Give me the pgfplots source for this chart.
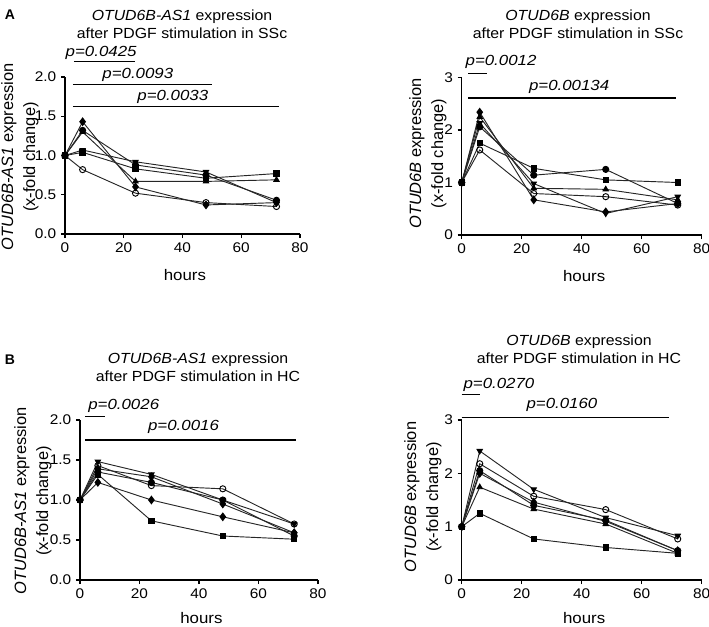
\documentclass[border=0pt]{standalone}
\usepackage{fontspec}
\setmainfont{Liberation Sans}
\newfontfamily\wideT[FakeStretch=1.08]{Liberation Sans}
\newfontfamily\wideP[FakeStretch=1.15]{Liberation Sans}
\newfontfamily\wideK[FakeStretch=1.1]{Liberation Sans}
\usepackage{pgfplots}
\pgfplotsset{compat=1.18}
\pgfplotsset{
  gp/.style={
    scale only axis,
    anchor=origin,
    axis lines=left,
    axis line style={-, line width=0.8pt},
    tick align=outside,
    major tick length=3pt,
    tick style={line width=0.8pt, black},
    xmin=0, xmax=80, ymin=0,
    xtick={0,20,40,60,80},
    clip=false,
    tick label style={font=\wideK\fontsize{10.5}{11}\selectfont},
    /pgf/number format/assume math mode=true,
    xlabel={hours},
    xlabel style={font=\wideK\fontsize{11.5}{12}\selectfont, at={(axis description cs:0.51,0)}, anchor=center, yshift=-30.75pt},
    every axis plot/.append style={line width=0.7pt, black!85, mark size=2.3pt},
  },
  gpb/.style={gp, xlabel style={yshift=2.25pt}},
}
\tikzset{
  ptext/.style={font=\wideP\fontsize{11}{12}\selectfont\itshape},
  pbar/.style={line width=0.8pt},
  mfc/.style={mark=*, mark options={fill=black, draw=black}},
  mfs/.style={mark=square*, mark size=2pt, mark options={fill=black, draw=black}},
  mfd/.style={mark=diamond*, mark size=2.8pt, mark options={fill=black, draw=black}},
  mft/.style={mark=triangle*, mark options={fill=black, draw=black}},
  mfi/.style={mark=triangle*, mark options={fill=black, draw=black, rotate=180}},
  moc/.style={mark=o, mark options={draw=black, fill=white}},
}
\begin{document}
\begin{tikzpicture}
\useasboundingbox (0,0) rectangle (531.75pt,469.5pt);

% ---------------- A left
\begin{axis}[gp, at={(48.75pt,294pt)}, width=176.25pt, height=117.75pt,
  ymax=2, ytick={0,0.5,1,1.5,2},
  yticklabel style={/pgf/number format/.cd, fixed, fixed zerofill, precision=1}]
\addplot[mfd] coordinates {(0,1) (6,1.43) (24,0.60) (48,0.37) (72,0.40)};
\addplot[mfc] coordinates {(0,1) (6,1.32) (24,0.88) (48,0.75) (72,0.43)};
\addplot[mfi] coordinates {(0,1) (6,1.07) (24,0.92) (48,0.79) (72,0.40)};
\addplot[mfs] coordinates {(0,1) (6,1.04) (24,0.83) (48,0.71) (72,0.77)};
\addplot[mft] coordinates {(0,1) (6,1.30) (24,0.67) (48,0.67) (72,0.69)};
\addplot[moc] coordinates {(0,1) (6,0.82) (24,0.52) (48,0.40) (72,0.35)};
\draw[pbar] (axis cs:3,2.2) -- (axis cs:24,2.2);
\node[ptext] at (axis cs:12.3,2.31) {p=0.0425};
\draw[pbar] (axis cs:2.7,1.91) -- (axis cs:50,1.91);
\node[ptext] at (axis cs:24.8,2.03) {p=0.0093};
\draw[pbar] (axis cs:2.7,1.63) -- (axis cs:73,1.63);
\node[ptext] at (axis cs:36.7,1.75) {p=0.0033};
\end{axis}

% ---------------- A right
\begin{axis}[gp, at={(346.3pt,293.25pt)}, width=180pt, height=118.1pt,
  ymax=3, ytick={0,1,2,3}]
\addplot[mfc] coordinates {(0,1) (6,2.06) (24,1.14) (48,1.25) (72,0.60)};
\addplot[mfs] coordinates {(0,1) (6,1.75) (24,1.27) (48,1.05) (72,1.00)};
\addplot[mfd] coordinates {(0,1) (6,2.34) (24,0.67) (48,0.44) (72,0.60)};
\addplot[mft] coordinates {(0,1) (6,2.25) (24,0.89) (48,0.87) (72,0.67)};
\addplot[moc] coordinates {(0,1) (6,1.62) (24,0.79) (48,0.73) (72,0.57)};
\addplot[mfi] coordinates {(0,1) (6,2.13) (24,0.98) (48,0.41) (72,0.73)};
\draw[pbar] (axis cs:2.1,3.07) -- (axis cs:8.4,3.07);
\node[ptext] at (axis cs:13.1,3.29) {p=0.0012};
\draw[pbar] (axis cs:2.1,2.61) -- (axis cs:71.4,2.61);
\node[ptext] at (axis cs:35.8,2.82) {p=0.00134};
\end{axis}

% ---------------- B left
\begin{axis}[gpb, at={(60pt,34.5pt)}, width=178.5pt, height=120pt,
  ymax=2, ytick={0,0.5,1,1.5,2},
  yticklabel style={/pgf/number format/.cd, fixed, fixed zerofill, precision=1}]
\addplot[mfi] coordinates {(0,1) (6,1.48) (24,1.32) (48,1.00) (72,0.70)};
\addplot[moc] coordinates {(0,1) (6,1.43) (24,1.18) (48,1.14) (72,0.70)};
\addplot[mfd] coordinates {(0,1) (6,1.39) (24,1.29) (48,0.95) (72,0.59)};
\addplot[mfc] coordinates {(0,1) (6,1.35) (24,1.22) (48,1.00) (72,0.55)};
\addplot[mfd] coordinates {(0,1) (6,1.22) (24,1.00) (48,0.79) (72,0.59)};
\addplot[mfs] coordinates {(0,1) (6,1.32) (24,0.74) (48,0.55) (72,0.51)};
\draw[pbar] (axis cs:1.7,2.04) -- (axis cs:8.5,2.04);
\node[ptext] at (axis cs:14.7,2.18) {p=0.0026};
\draw[pbar] (axis cs:1.7,1.75) -- (axis cs:72.6,1.75);
\node[ptext] at (axis cs:34.8,1.91) {p=0.0016};
\end{axis}

% ---------------- B right
\begin{axis}[gpb, at={(346.3pt,34.5pt)}, width=180pt, height=120pt,
  ymax=3, ytick={0,1,2,3}]
\addplot[mfi] coordinates {(0,1) (6,2.42) (24,1.70) (48,1.17) (72,0.83)};
\addplot[moc] coordinates {(0,1) (6,2.18) (24,1.57) (48,1.32) (72,0.77)};
\addplot[mfd] coordinates {(0,1) (6,2.00) (24,1.46) (48,1.10) (72,0.55)};
\addplot[mft] coordinates {(0,1) (6,1.74) (24,1.33) (48,1.05) (72,0.50)};
\addplot[mfc] coordinates {(0,1) (6,2.05) (24,1.40) (48,1.12) (72,0.55)};
\addplot[mfs] coordinates {(0,1) (6,1.25) (24,0.77) (48,0.61) (72,0.50)};
\draw[pbar] (axis cs:0,3.47) -- (axis cs:6,3.47);
\node[ptext] at (axis cs:12.4,3.66) {p=0.0270};
\draw[pbar] (axis cs:0,3.05) -- (axis cs:69,3.05);
\node[ptext] at (axis cs:33.4,3.28) {p=0.0160};
\end{axis}

% ---------------- titles and labels (pixel positions * 0.75)
\tikzset{ttl/.style={font=\wideT\fontsize{11}{13.5}\selectfont, align=center},
         ylab/.style={font=\fontsize{12.3}{16.5}\selectfont, align=center, rotate=90}}
\node[font=\bfseries\fontsize{10.5}{12}\selectfont] at (7.5pt,458.25pt) {A};
\node[font=\bfseries\fontsize{10.5}{12}\selectfont] at (7.5pt,199.5pt) {B};

\node[ttl] at (136.5pt,451.5pt) {\textit{OTUD6B-AS1} expression\\after PDGF stimulation in SSc};
\node[ttl] at (433.5pt,451.5pt) {\textit{OTUD6B} expression\\after PDGF stimulation in SSc};
\node[ttl] at (148.5pt,193.9pt) {\textit{OTUD6B-AS1} expression\\after PDGF stimulation in HC};
\node[ttl] at (434.25pt,207.75pt) {\textit{OTUD6B} expression\\after PDGF stimulation in HC};

\node[ylab] at (15pt,351.75pt) {\textit{OTUD6B-AS1} expression\\(x-fold change)};
\node[ylab] at (321pt,354.4pt) {\textit{OTUD6B} expression\\(x-fold change)};
\node[ylab] at (24.75pt,93.75pt) {\textit{OTUD6B-AS1} expression\\(x-fold change)};
\node[ylab] at (317.25pt,96.75pt) {\textit{OTUD6B} expression\\(x-fold change)};
\end{tikzpicture}
\end{document}
